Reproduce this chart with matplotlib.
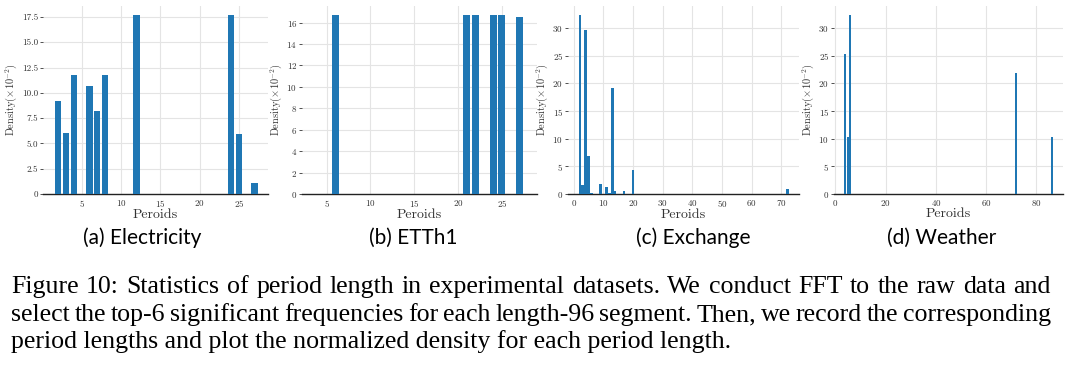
import matplotlib
matplotlib.use('Agg')
import matplotlib.pyplot as plt

# period statistics (density in 1e-2)
elec_periods = [2, 3, 4, 6, 7, 8, 12, 24, 25, 27]
elec_density = [9.23, 6.05, 11.78, 10.68, 8.2, 11.78, 17.7, 17.7, 5.92, 1.12]

etth1_periods = [6, 21, 22, 24, 25, 27]
etth1_density = [16.72, 16.72, 16.72, 16.72, 16.72, 16.53]

exch_periods = [2, 3, 4, 5, 6, 9, 11, 12, 13, 14, 17, 20, 72]
exch_density = [32.4, 1.6, 29.6, 6.9, 0.25, 1.9, 1.35, 0.2, 19.1, 0.5, 0.6, 4.35, 0.9]

weather_periods = [4, 5, 6, 72, 86]
weather_density = [25.27, 10.4, 32.4, 21.9, 10.4]

titles = ['(a) Electricity', '(b) ETTh1', '(c) Exchange', '(d) Weather']
caption = ['Figure 10: Statistics of period length in experimental datasets. We conduct FFT to the raw data and',
           'select the top-6 significant frequencies for each length-96 segment. Then, we record the corresponding',
           'period lengths and plot the normalized density for each period length.']

plt.rcParams['font.family'] = 'cmr10'
plt.rcParams['mathtext.fontset'] = 'cm'
plt.rcParams['axes.formatter.use_mathtext'] = True

W, H = 1080, 368
fig = plt.figure(figsize=(W / 100, H / 100), dpi=100)

# axes boxes in pixels: left, right
boxes = [(43, 268), (302, 537), (568, 799), (834, 1063)]
top, bottom = 6, 194
data = [(elec_periods, elec_density), (etth1_periods, etth1_density),
        (exch_periods, exch_density), (weather_periods, weather_density)]
yticks = [[0, 2.5, 5, 7.5, 10, 12.5, 15, 17.5], [0, 2, 4, 6, 8, 10, 12, 14, 16],
          [0, 5, 10, 15, 20, 25, 30], [0, 5, 10, 15, 20, 25, 30]]
title_x = [142, 413, 693, 942]

for i, ((l, r), (p, d)) in enumerate(zip(boxes, data)):
    ax = fig.add_axes([l / W, 1 - bottom / H, (r - l) / W, (bottom - top) / H])
    ax.bar(p, d, width=0.8, color='#1f77b4', zorder=3)
    ax.grid(True, color='#e4e4e4', linewidth=0.8, zorder=0)
    for s in ['left', 'right', 'top']:
        ax.spines[s].set_visible(False)
    ax.spines['bottom'].set_linewidth(1.0)
    ax.spines['bottom'].set_color('#222222')
    ax.set_yticks(yticks[i])
    if i == 0:
        ax.set_yticklabels(['0', '2.5', '5.0', '7.5', '10.0', '12.5', '15.0', '17.5'])
    ax.tick_params(axis='y', length=2, width=0.6, pad=1.5, labelsize=6.5, colors='#333333')
    ax.tick_params(axis='x', length=0, pad=3, labelsize=6.5, colors='#333333')
    ax.set_xlabel('Peroids', fontsize=10, labelpad=0, color='#333333')
    ax.set_ylabel(r'Density($\times 10^{-2}$)', fontsize=7.5, labelpad=2, color='#333333')
    if i == 1:
        ax.set_xlim(2.2, 29.0)
        ax.set_xticks([5, 10, 15, 20, 25])
    if i == 0:
        ax.set_xlim(0.1, 28.7)
        ax.set_xticks([5, 10, 15, 20, 25])
    fig.text(title_x[i] / W, 1 - 238 / H, titles[i], family='Lato', fontsize=15,
             ha='center', va='center')

# caption, first two lines justified
r = fig.canvas.get_renderer()
x0, x1 = 11, 1051
baselines = [293, 321, 348]
for j, line in enumerate(caption):
    y = 1 - baselines[j] / H
    if j == 2:
        fig.text(x0 / W, y, line, family='Liberation Serif', fontsize=18.6, va='baseline')
        continue
    words = line.split()
    ts = [fig.text(0, y, w, family='Liberation Serif', fontsize=18.6, va='baseline') for w in words]
    ws = [t.get_window_extent(r).width for t in ts]
    gap = (x1 - x0 - sum(ws)) / (len(words) - 1)
    x = x0
    for t, w in zip(ts, ws):
        t.set_x(x / W)
        x += w + gap

fig.savefig('out.png', dpi=100)
